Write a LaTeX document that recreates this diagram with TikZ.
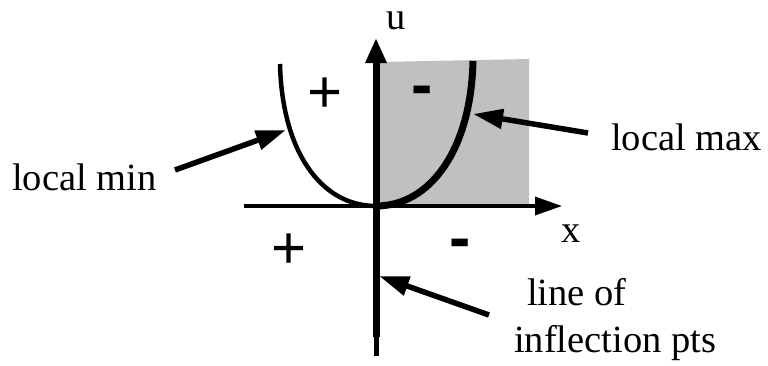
\documentclass[tikz,border=0pt]{standalone}
\usepackage{fontspec}
\setmainfont{Liberation Serif}
\newfontfamily\signfont{Liberation Sans}
\usetikzlibrary{arrows.meta}
\definecolor{quadgray}{HTML}{C0C0C0}
\begin{document}
\begin{tikzpicture}[x=1pt,y=-1pt,
  lbl/.style={inner sep=0pt, anchor=base west, font=\fontsize{38.5}{46}\selectfont},
  plussign/.style={inner sep=0pt, anchor=center, font=\signfont\fontsize{60}{60}\selectfont},
  minussign/.style={inner sep=0pt, anchor=center, font=\signfont\bfseries\fontsize{64}{64}\selectfont},
  callout/.style={line width=5.5pt, -{Triangle[length=30pt,width=19pt]}},
]
\useasboundingbox (0,0) rectangle (768,365);
% shaded quadrant
\fill[quadgray] (378,62) -- (529,59) -- (529,206) -- (378,206) -- cycle;
% coordinates
\coordinate (O) at (376,206);
\coordinate (xstart) at (244,206);
\coordinate (xtip) at (562,206);
\coordinate (ubot) at (376,337);
\coordinate (uend) at (376,356);
\coordinate (utip) at (376,38);
\coordinate (ltop) at (280,64);
\coordinate (rtop) at (473,61);
% x axis
\draw[line width=3.5pt, -{Triangle[length=27pt,width=18pt]}] (xstart) -- (xtip);
% curve: left branch thinner, right branch thick
\draw[line width=4.5pt] (ltop) .. controls (282,150) and (320,206) .. (O);
\draw[line width=7pt] (O) .. controls (430,206) and (471,150) .. (rtop);
% u axis
\draw[line width=5pt] (ubot) -- (uend);
\draw[line width=7pt, -{Triangle[length=25pt,width=20pt]}] (ubot) -- (utip);
% axis labels
\node[lbl] (ulab) at (386,29) {u};
\node[lbl] (xlab) at (561,242) {x};
% signs
\node[plussign] (p1) at (325,95) {+};
\node[minussign] (m1) at (422,96) {-};
\node[plussign] (p2) at (289,251.5) {+};
\node[minussign] (m2) at (460.5,249) {-};
% labels
\node[lbl] (lmin) at (12,190) {local min};
\node[lbl] (lmax) at (611,150) {local max};
\node[lbl] (lin1) at (527,305) {line of};
\node[lbl] (lin2) at (514,352) {inflection pts};
% callout arrows
\coordinate (minTail) at (175,170);
\coordinate (minTip) at (286,130);
\coordinate (maxTail) at (588,133);
\coordinate (maxTip) at (473,114);
\coordinate (infTail) at (489,315);
\coordinate (infTip) at (379,276);
\draw[callout] (minTail) -- (minTip);
\draw[callout] (maxTail) -- (maxTip);
\draw[callout] (infTail) -- (infTip);
\end{tikzpicture}
\end{document}
